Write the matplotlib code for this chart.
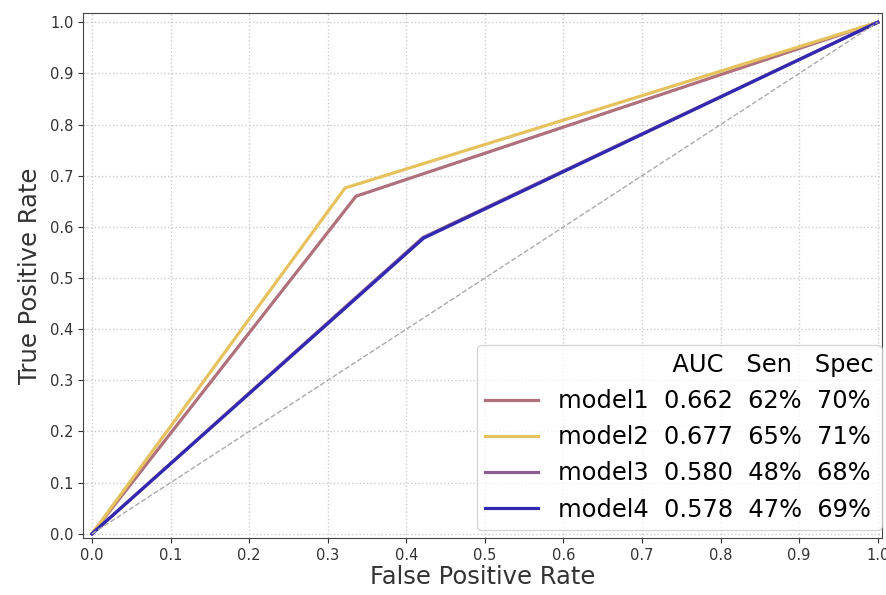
import numpy as np
import matplotlib.pyplot as plt
from matplotlib.lines import Line2D

# ROC points (single threshold per model)
models = ['model1', 'model2', 'model3', 'model4']
fpr_knee = [0.336, 0.322, 0.421, 0.422]
tpr_knee = [0.660, 0.676, 0.579, 0.578]
auc = [0.662, 0.677, 0.580, 0.578]
sen = [62, 65, 48, 47]
spec = [70, 71, 68, 69]
colors = ['#b0707c', '#e6c25e', '#8a5c92', '#3328b0']

fig = plt.figure(figsize=(8.87, 5.95), dpi=100)
ax = fig.add_axes([0.094, 0.096, 0.900, 0.882])

handles = [Line2D([], [], color='none')]
labels = ['               AUC   Sen   Spec']
for i, m in enumerate(models):
    ln, = ax.plot([0, fpr_knee[i], 1], [0, tpr_knee[i], 1], color=colors[i], lw=2.3)
    handles.append(ln)
    labels.append(f'{m}  {auc[i]:.3f}  {sen[i]}%  {spec[i]}%')

ax.plot([0, 1], [0, 1], color='#aaaaaa', lw=1, ls='--')

ax.set_xlim(-0.011, 1.005)
ax.set_ylim(-0.008, 1.018)
ax.set_xticks(np.arange(0, 1.01, 0.1))
ax.set_yticks(np.arange(0, 1.01, 0.1))
ax.set_xticklabels([f'{v:.1f}' for v in np.arange(0, 1.01, 0.1)])
ax.set_yticklabels([f'{v:.1f}' for v in np.arange(0, 1.01, 0.1)])
ax.tick_params(labelsize=10.5, colors='#333333')
ax.grid(True, linestyle=':', color='#cccccc', lw=1)
for s in ax.spines.values():
    s.set_color('#444444')

ax.set_xlabel('False Positive Rate', fontsize=17.5, color='#333333', labelpad=2)
ax.set_ylabel('True Positive Rate', fontsize=17.5, color='#333333', labelpad=6)

ax.legend(handles, labels, loc='lower right', fontsize=17.4, handlelength=2.2,
          borderaxespad=0.0, borderpad=0.35, labelspacing=0.5,
          bbox_to_anchor=(1.0, 0.015))

fig.savefig('out.png', dpi=100)
